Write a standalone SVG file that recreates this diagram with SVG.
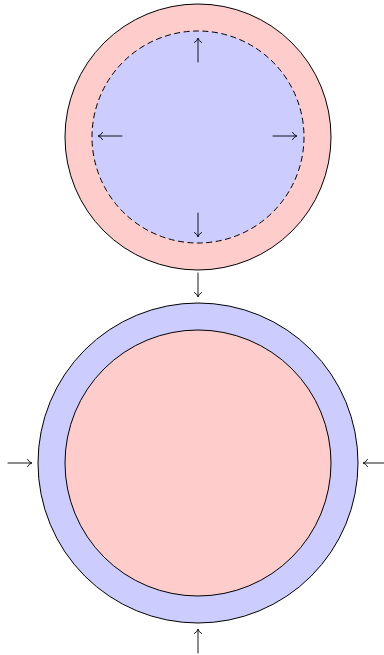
<svg xmlns="http://www.w3.org/2000/svg" xmlns:xlink="http://www.w3.org/1999/xlink" width="384" height="655" viewBox="0 0 384 655">
<style>
.pink{fill:#ffcccc;stroke:#000;stroke-width:1}
.blue{fill:#ccccff;stroke:#000;stroke-width:1}
.dash{stroke-dasharray:6,3.5}
.arr{fill:none;stroke:#000;stroke-width:0.9;stroke-linecap:round;stroke-linejoin:round}
</style>
<defs>
<g id="ar">
<path class="arr" d="M0,0 H23.5 M19.5,-3.6 Q21,-0.8 23.8,0 Q21,0.8 19.5,3.6"/>
</g>
</defs>
<rect width="384" height="655" fill="#fff"/>
<g id="top-outer"><circle class="pink" cx="198" cy="137" r="133"/></g>
<g id="top-inner"><circle class="blue dash" cx="198" cy="137" r="106"/></g>
<g id="bottom-outer"><circle class="blue" cx="198" cy="463" r="160"/></g>
<g id="bottom-inner"><circle class="pink" cx="198" cy="463" r="133"/></g>
<g id="connectors">
<use xlink:href="#ar" transform="translate(198,62) rotate(-90)"/>
<use xlink:href="#ar" transform="translate(122,136) rotate(180)"/>
<use xlink:href="#ar" transform="translate(273,136)"/>
<use xlink:href="#ar" transform="translate(198,213) rotate(90)"/>
<use xlink:href="#ar" transform="translate(198,273) rotate(90)"/>
<use xlink:href="#ar" transform="translate(8,463)"/>
<use xlink:href="#ar" transform="translate(387,463) rotate(180)"/>
<use xlink:href="#ar" transform="translate(198,653) rotate(-90)"/>
</g>
</svg>
